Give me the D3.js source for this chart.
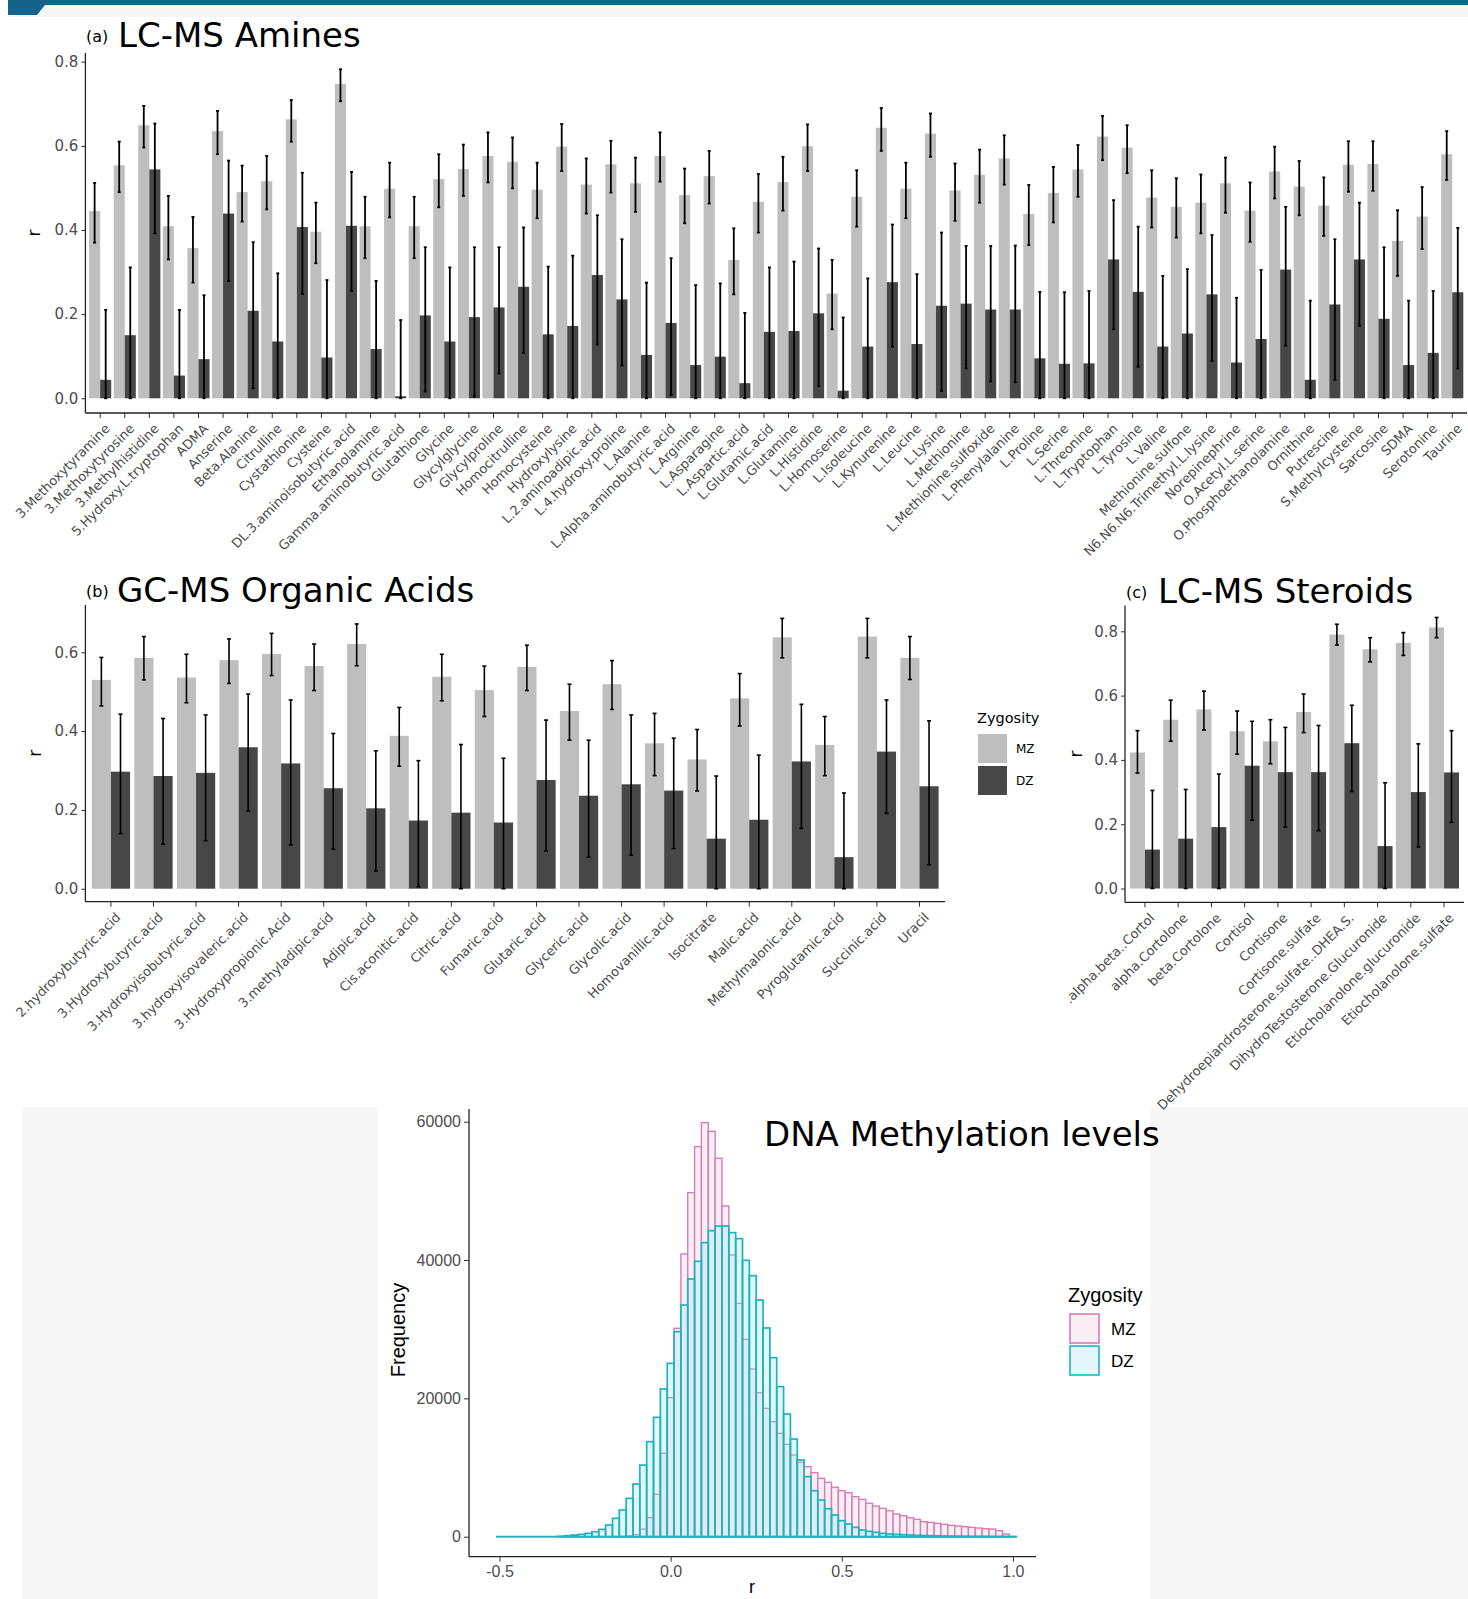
<!DOCTYPE html>
<html>
<head>
<meta charset="utf-8">
<script src="https://cdn.jsdelivr.net/npm/d3@7"></script>
<style>
  body { margin: 0; background: #fff; }
  text { font-family: "DejaVu Sans", sans-serif; }
</style>
</head>
<body>
<svg id="fig" width="1468" height="1599"></svg>
<script>
// ---------- data ----------
var zygosity = ["MZ", "DZ"];

// (a) LC-MS Amines
var aminesNames = ["3.Methoxytyramine","3.Methoxytyrosine","3.Methylhistidine","5.Hydroxy.L.tryptophan","ADMA","Anserine","Beta.Alanine","Citrulline","Cystathionine","Cysteine","DL.3.aminoisobutyric.acid","Ethanolamine","Gamma.aminobutyric.acid","Glutathione","Glycine","Glycylglycine","Glycylproline","Homocitrulline","Homocysteine","Hydroxylysine","L.2.aminoadipic.acid","L.4.hydroxy.proline","L.Alanine","L.Alpha.aminobutyric.acid","L.Arginine","L.Asparagine","L.Aspartic.acid","L.Glutamic.acid","L.Glutamine","L.Histidine","L.Homoserine","L.Isoleucine","L.Kynurenine","L.Leucine","L.Lysine","L.Methionine","L.Methionine.sulfoxide","L.Phenylalanine","L.Proline","L.Serine","L.Threonine","L.Tryptophan","L.Tyrosine","L.Valine","Methionine.sulfone","N6.N6.N6.Trimethyl.L.lysine","Norepinephrine","O.Acetyl.L.serine","O.Phosphoethanolamine","Ornithine","Putrescine","S.Methylcysteine","Sarcosine","SDMA","Serotonine","Taurine"];
var aminesMZ   = [0.445,0.554,0.649,0.409,0.357,0.635,0.490,0.516,0.663,0.396,0.747,0.409,0.498,0.409,0.521,0.545,0.576,0.562,0.496,0.598,0.508,0.556,0.511,0.576,0.483,0.528,0.329,0.467,0.514,0.599,0.249,0.479,0.643,0.498,0.629,0.494,0.531,0.570,0.438,0.488,0.544,0.622,0.596,0.477,0.455,0.465,0.511,0.446,0.539,0.503,0.458,0.555,0.557,0.374,0.432,0.580];
var aminesMZlo = [0.370,0.490,0.596,0.330,0.275,0.580,0.420,0.449,0.610,0.321,0.706,0.333,0.430,0.333,0.454,0.481,0.513,0.499,0.428,0.540,0.439,0.489,0.443,0.515,0.416,0.463,0.247,0.394,0.446,0.540,0.164,0.408,0.588,0.428,0.574,0.422,0.465,0.508,0.364,0.418,0.479,0.566,0.535,0.406,0.382,0.392,0.441,0.372,0.475,0.435,0.386,0.491,0.493,0.291,0.355,0.519];
var aminesMZhi = [0.512,0.610,0.695,0.481,0.431,0.683,0.553,0.576,0.709,0.465,0.782,0.479,0.560,0.479,0.580,0.603,0.632,0.620,0.560,0.652,0.570,0.612,0.572,0.632,0.546,0.588,0.404,0.533,0.574,0.651,0.329,0.542,0.690,0.560,0.677,0.558,0.591,0.625,0.507,0.550,0.602,0.671,0.649,0.542,0.523,0.532,0.572,0.513,0.598,0.564,0.525,0.611,0.611,0.447,0.502,0.635];
var aminesDZ   = [0.044,0.150,0.544,0.054,0.093,0.439,0.208,0.135,0.407,0.097,0.410,0.117,0.005,0.197,0.135,0.193,0.216,0.265,0.152,0.172,0.293,0.235,0.103,0.179,0.079,0.099,0.036,0.158,0.160,0.202,0.018,0.123,0.276,0.129,0.220,0.225,0.211,0.211,0.095,0.082,0.083,0.330,0.253,0.123,0.154,0.247,0.085,0.141,0.306,0.044,0.223,0.330,0.189,0.079,0.108,0.252];
var aminesDZlo = [0,0,0.392,0,0,0.279,0.024,0,0.248,0,0.255,0,0,0.016,0,0.004,0.059,0.108,0,0,0.128,0.078,0,0.008,0,0,0,0,0,0.029,0,0,0.123,0,0.017,0.071,0.040,0.038,0,0,0,0.164,0.075,0,0,0.089,0,0,0.125,0,0.044,0.172,0,0,0,0.071];
var aminesDZhi = [0.210,0.311,0.653,0.210,0.245,0.565,0.371,0.297,0.536,0.281,0.538,0.279,0.186,0.359,0.311,0.359,0.359,0.406,0.313,0.339,0.435,0.378,0.275,0.333,0.269,0.273,0.203,0.311,0.325,0.356,0.192,0.285,0.413,0.295,0.394,0.362,0.362,0.363,0.253,0.252,0.255,0.471,0.408,0.291,0.307,0.388,0.239,0.305,0.455,0.232,0.378,0.465,0.359,0.232,0.255,0.405];

// (b) GC-MS Organic Acids
var acidsNames = ["2.hydroxybutyric.acid","3.Hydroxybutyric.acid","3.Hydroxyisobutyric.acid","3.hydroxyisovaleric.acid","3.Hydroxypropionic.Acid","3.methyladipic.acid","Adipic.acid","Cis.aconitic.acid","Citric.acid","Fumaric.acid","Glutaric.acid","Glyceric.acid","Glycolic.acid","Homovanillic.acid","Isocitrate","Malic.acid","Methylmalonic.acid","Pyroglutamic.acid","Succinic.acid","Uracil"];
var acidsMZ   = [0.530,0.586,0.536,0.580,0.596,0.565,0.621,0.388,0.538,0.504,0.563,0.451,0.519,0.369,0.328,0.483,0.638,0.365,0.640,0.586];
var acidsMZlo = [0.464,0.530,0.472,0.521,0.541,0.503,0.566,0.311,0.477,0.437,0.503,0.377,0.455,0.287,0.248,0.413,0.586,0.287,0.586,0.531];
var acidsMZhi = [0.587,0.640,0.595,0.634,0.648,0.621,0.672,0.460,0.595,0.565,0.618,0.519,0.579,0.445,0.404,0.546,0.686,0.437,0.686,0.640];
var acidsDZ   = [0.297,0.286,0.294,0.359,0.318,0.255,0.204,0.173,0.193,0.168,0.276,0.236,0.265,0.249,0.127,0.175,0.323,0.080,0.348,0.260];
var acidsDZlo = [0.140,0.113,0.122,0.197,0.111,0.100,0.045,0.005,0,0,0.096,0.080,0.085,0.102,0,0,0.153,0,0.191,0.061];
var acidsDZhi = [0.443,0.432,0.441,0.494,0.479,0.394,0.350,0.325,0.366,0.331,0.428,0.377,0.441,0.382,0.286,0.339,0.468,0.243,0.479,0.426];

// (c) LC-MS Steroids
var steroidNames = [".alpha.beta..Cortol","alpha.Cortolone","beta.Cortolone","Cortisol","Cortisone","Cortisone.sulfate","Dehydroepiandrosterone.sulfate..DHEA.S.","DihydroTestosterone.Glucuronide","Etiocholanolone.glucuronide","Etiocholanolone.sulfate"];
var steroidMZ   = [0.423,0.525,0.557,0.489,0.458,0.549,0.790,0.744,0.764,0.812];
var steroidMZlo = [0.359,0.458,0.493,0.418,0.388,0.485,0.757,0.705,0.725,0.780];
var steroidMZhi = [0.491,0.586,0.614,0.552,0.525,0.605,0.822,0.780,0.796,0.843];
var steroidDZ   = [0.121,0.155,0.191,0.382,0.362,0.362,0.452,0.132,0.300,0.361];
var steroidDZlo = [0,0,0,0.212,0.191,0.180,0.302,0,0.129,0.206];
var steroidDZhi = [0.305,0.308,0.356,0.520,0.501,0.507,0.570,0.329,0.450,0.491];

var rTicks8 = [0, 0.2, 0.4, 0.6, 0.8];
var rTicks6 = [0, 0.2, 0.4, 0.6];
var rLabels8 = ["0.0", "0.2", "0.4", "0.6", "0.8"];
var rLabels6 = ["0.0", "0.2", "0.4", "0.6"];

// DNA methylation histogram, bins of 0.02 centred on -0.50 ... 1.00
var binStart = -0.51, binWidth = 0.02;
var methMZ = [0,0,0,0,0,0,0,0,0,0,0,0,0,0,0,0,0,
  20,50,120,300,1108,2747,6121,12050,20099,30125,
  40874,49742,56394,59864,58611,54707,47814,40729,33740,28534,
  24245,20822,18557,16629,14942,13351,11809,10748,10122,9254,
  8435,7857,7134,6652,6362,5784,5398,4820,4434,4097,
  3760,3278,3037,2747,2506,2169,2072,1928,1783,1639,
  1542,1446,1350,1253,1157,1109,868,385,0];
var methDZ = [0,0,0,0,0,0,0,0,0,
  48,145,241,337,482,723,1060,1687,2651,3856,
  5543,7616,10363,13737,17256,21353,25064,29643,33499,37259,
  39813,42512,44248,44922,44922,43958,43091,39958,37741,34222,
  30173,25883,21690,17738,14123,11086,8676,6652,5302,4049,
  3133,2314,1832,1350,964,771,627,482,386,337,
  289,241,193,169,145,120,100,80,70,60,50,40,35,30,25,20,10];
var freqTicks = [0, 20000, 40000, 60000];
var freqLabels = ["0", "20000", "40000", "60000"];
var histRTicks = [-0.5, 0, 0.5, 1.0];
var histRLabels = ["-0.5", "0.0", "0.5", "1.0"];

// ---------- page ----------
var svg = d3.select("#fig");
var barFill = {MZ: "#bebebe", DZ: "#474747"};

// header strip
svg.append("rect").attr("x", 8).attr("y", 5).attr("width", 1460).attr("height", 12).attr("fill", "#f6f6f6");
svg.append("rect").attr("x", 8).attr("y", 0).attr("width", 1460).attr("height", 5).attr("fill", "#13638a");
svg.append("path").attr("d", "M8,5L45,5L37,15L8,15Z").attr("fill", "#13638a");

// grey page margins beside the histogram
svg.append("rect").attr("x", 22).attr("y", 1107).attr("width", 356).attr("height", 492).attr("fill", "#f7f7f7");
svg.append("rect").attr("x", 1150).attr("y", 1107).attr("width", 318).attr("height", 492).attr("fill", "#f7f7f7");

function barPanel(o) {
    var g = svg.append("g");

    var x = d3.scaleBand()
        .domain(o.names)
        .range([o.left, o.right])
        .paddingInner(0)
        .paddingOuter(0.1);
    var bw = x.bandwidth();
    var sub = d3.scaleBand()
        .domain(zygosity)
        .range([0.05 * bw, 0.95 * bw]);
    var y = d3.scaleLinear()
        .domain([0, o.ticks[o.ticks.length - 1]])
        .range([o.zeroY, o.topTickY]);

    var rows = [];
    o.names.forEach(function (n, i) {
        rows.push({name: n, z: "MZ", v: o.mz[i], lo: o.mzLo[i], hi: o.mzHi[i]});
        rows.push({name: n, z: "DZ", v: o.dz[i], lo: o.dzLo[i], hi: o.dzHi[i]});
    });

    // bars
    g.selectAll(".bar")
        .data(rows)
        .enter().append("rect")
        .attr("x", function (d) { return x(d.name) + sub(d.z); })
        .attr("width", sub.bandwidth())
        .attr("y", function (d) { return y(d.v); })
        .attr("height", function (d) { return y(0) - y(d.v); })
        .attr("fill", function (d) { return barFill[d.z]; });

    // error bars
    var cx = function (d) { return x(d.name) + sub(d.z) + sub.bandwidth() / 2; };
    g.selectAll(".err")
        .data(rows)
        .enter().append("line")
        .attr("x1", cx).attr("x2", cx)
        .attr("y1", function (d) { return y(d.lo); })
        .attr("y2", function (d) { return y(d.hi); })
        .attr("stroke", "#000").attr("stroke-width", o.errW);
    ["lo", "hi"].forEach(function (k) {
        g.selectAll(".cap" + k)
            .data(rows)
            .enter().append("line")
            .attr("x1", function (d) { return cx(d) - o.cap; })
            .attr("x2", function (d) { return cx(d) + o.cap; })
            .attr("y1", function (d) { return y(d[k]); })
            .attr("y2", function (d) { return y(d[k]); })
            .attr("stroke", "#000").attr("stroke-width", o.errW);
    });

    // axes
    var ya = g.append("g")
        .attr("transform", "translate(" + o.left + ",0)")
        .call(d3.axisLeft(y).tickValues(o.ticks)
            .tickFormat(function (d, i) { return o.tickLabels[i]; })
            .tickSize(4).tickPadding(3));
    ya.select(".domain").remove();
    ya.selectAll("line").attr("stroke", "#333");
    ya.selectAll("text").attr("fill", "#4d4d4d").style("font-size", "15px").style("font-family", "DejaVu Sans");

    var xa = g.append("g")
        .attr("transform", "translate(0," + o.axisBottom + ")")
        .call(d3.axisBottom(x).tickSize(5).tickSizeOuter(0));
    xa.select(".domain").remove();
    xa.selectAll("line").attr("stroke", "#333");
    xa.selectAll("text")
        .attr("x", 0).attr("y", 0).attr("dy", "0.7em")
        .attr("transform", "translate(4,10) rotate(-45)")
        .attr("text-anchor", "end")
        .attr("fill", "#4d4d4d")
        .style("font-size", "13px").style("font-family", "DejaVu Sans");

    g.append("line")
        .attr("x1", o.left).attr("x2", o.left)
        .attr("y1", o.axisTop).attr("y2", o.axisBottom)
        .attr("stroke", "#222").attr("stroke-width", 1.3);
    g.append("line")
        .attr("x1", o.left).attr("x2", o.right)
        .attr("y1", o.axisBottom).attr("y2", o.axisBottom)
        .attr("stroke", "#222").attr("stroke-width", 1.3);

    // y title
    g.append("text")
        .attr("transform", "translate(" + o.rX + "," + ((o.axisTop + o.axisBottom) / 2) + ") rotate(-90)")
        .attr("text-anchor", "middle")
        .style("font-size", "17px")
        .text("r");

    // panel title
    g.append("text").attr("x", o.tagX).attr("y", o.titleY - 5)
        .style("font-size", "16px").text(o.tag);
    g.append("text").attr("x", o.titleX).attr("y", o.titleY)
        .style("font-size", "34px").text(o.title);
}

barPanel({
    names: aminesNames, mz: aminesMZ, mzLo: aminesMZlo, mzHi: aminesMZhi,
    dz: aminesDZ, dzLo: aminesDZlo, dzHi: aminesDZhi,
    ticks: rTicks8, tickLabels: rLabels8,
    left: 85.4, right: 1467, zeroY: 398.3, topTickY: 61.7, axisTop: 53, axisBottom: 413,
    errW: 1.8, cap: 1.5, rX: 40,
    tag: "(a)", tagX: 86, title: "LC-MS Amines", titleX: 118, titleY: 47
});

barPanel({
    names: acidsNames, mz: acidsMZ, mzLo: acidsMZlo, mzHi: acidsMZhi,
    dz: acidsDZ, dzLo: acidsDZlo, dzHi: acidsDZhi,
    ticks: rTicks6, tickLabels: rLabels6,
    left: 85.4, right: 945, zeroY: 888.7, topTickY: 652.3, axisTop: 605, axisBottom: 901.7,
    errW: 1.6, cap: 2, rX: 41,
    tag: "(b)", tagX: 86, title: "GC-MS Organic Acids", titleX: 117, titleY: 602
});

barPanel({
    names: steroidNames, mz: steroidMZ, mzLo: steroidMZlo, mzHi: steroidMZhi,
    dz: steroidDZ, dzLo: steroidDZlo, dzHi: steroidDZhi,
    ticks: rTicks8, tickLabels: rLabels8,
    left: 1125, right: 1464, zeroY: 888.5, topTickY: 631.3, axisTop: 605.5, axisBottom: 902.3,
    errW: 1.6, cap: 2, rX: 1082,
    tag: "(c)", tagX: 1126, title: "LC-MS Steroids", titleX: 1158, titleY: 603
});

// legend for the bar panels
var lg = svg.append("g");
lg.append("text").attr("x", 977).attr("y", 723).style("font-size", "14.5px").text("Zygosity");
zygosity.forEach(function (z, i) {
    lg.append("rect").attr("x", 978).attr("y", 734 + i * 32).attr("width", 29).attr("height", 29)
        .attr("fill", barFill[z]);
    lg.append("text").attr("x", 1016).attr("y", 748.5 + i * 32).attr("dy", "0.35em")
        .style("font-size", "12px").text(z);
});

// ---------- DNA methylation histogram ----------
var hx = d3.scaleLinear().domain([-0.5, 1.0]).range([499.5, 1012.9]);
var hy = d3.scaleLinear().domain([0, 60000]).range([1536.7, 1121.7]);
var hist = svg.append("g");
var histStyle = {
    MZ: {fill: "#fbeef5", fillOpacity: 1, stroke: "#d67db4", width: 1.4},
    DZ: {fill: "rgb(162,228,235)", fillOpacity: 0.3, stroke: "#1cb4c2", width: 1.7}
};

function drawHist(counts, z) {
    var s = histStyle[z];
    var hg = hist.append("g");
    // empty bins still show as a flat outline on the zero line
    hg.append("line")
        .attr("x1", hx(binStart)).attr("x2", hx(binStart + counts.length * binWidth))
        .attr("y1", hy(0)).attr("y2", hy(0))
        .attr("stroke", s.stroke).attr("stroke-width", s.width);
    hg.selectAll("rect")
        .data(counts)
        .enter().append("rect")
        .attr("x", function (d, i) { return hx(binStart + i * binWidth); })
        .attr("width", function (d, i) { return hx(binStart + (i + 1) * binWidth) - hx(binStart + i * binWidth); })
        .attr("y", function (d) { return hy(d); })
        .attr("height", function (d) { return hy(0) - hy(d); })
        .attr("fill", s.fill).attr("fill-opacity", s.fillOpacity)
        .attr("stroke", s.stroke).attr("stroke-width", s.width)
        .attr("display", function (d) { return d > 0 ? null : "none"; });
}
drawHist(methMZ, "MZ");
drawHist(methDZ, "DZ");

var hya = hist.append("g")
    .attr("transform", "translate(469,0)")
    .call(d3.axisLeft(hy).tickValues(freqTicks)
        .tickFormat(function (d, i) { return freqLabels[i]; })
        .tickSize(5).tickPadding(3));
var hxa = hist.append("g")
    .attr("transform", "translate(0,1556.7)")
    .call(d3.axisBottom(hx).tickValues(histRTicks)
        .tickFormat(function (d, i) { return histRLabels[i]; })
        .tickSize(5).tickPadding(4));
[hya, hxa].forEach(function (a) {
    a.select(".domain").remove();
    a.selectAll("line").attr("stroke", "#333");
    a.selectAll("text").attr("fill", "#4d4d4d")
        .style("font-size", "16px").style("font-family", "Liberation Sans, Arial, sans-serif");
});
hist.append("line").attr("x1", 469).attr("x2", 469).attr("y1", 1109).attr("y2", 1556.7)
    .attr("stroke", "#222").attr("stroke-width", 1.3);
hist.append("line").attr("x1", 469).attr("x2", 1036).attr("y1", 1556.7).attr("y2", 1556.7)
    .attr("stroke", "#222").attr("stroke-width", 1.3);

hist.append("text")
    .attr("transform", "translate(405,1330) rotate(-90)")
    .attr("text-anchor", "middle")
    .style("font-size", "20px").style("font-family", "Liberation Sans, Arial, sans-serif")
    .text("Frequency");
hist.append("text").attr("x", 752).attr("y", 1593).attr("text-anchor", "middle")
    .style("font-size", "18px").style("font-family", "Liberation Sans, Arial, sans-serif")
    .text("r");
hist.append("text").attr("x", 764).attr("y", 1146)
    .style("font-size", "34px").text("DNA Methylation levels");

// histogram legend
var hl = svg.append("g");
hl.append("text").attr("x", 1068).attr("y", 1302).style("font-size", "20px")
    .style("font-family", "Liberation Sans, Arial, sans-serif").text("Zygosity");
zygosity.forEach(function (z, i) {
    var s = histStyle[z];
    hl.append("rect").attr("x", 1070).attr("y", 1314 + i * 32).attr("width", 29).attr("height", 29)
        .attr("fill", z === "MZ" ? "#fbeef5" : "#e3f7f9")
        .attr("stroke", s.stroke).attr("stroke-width", 1.6);
    hl.append("text").attr("x", 1111).attr("y", 1329 + i * 32).attr("dy", "0.35em")
        .style("font-size", "17px").style("font-family", "Liberation Sans, Arial, sans-serif")
        .text(z);
});
</script>
</body>
</html>
